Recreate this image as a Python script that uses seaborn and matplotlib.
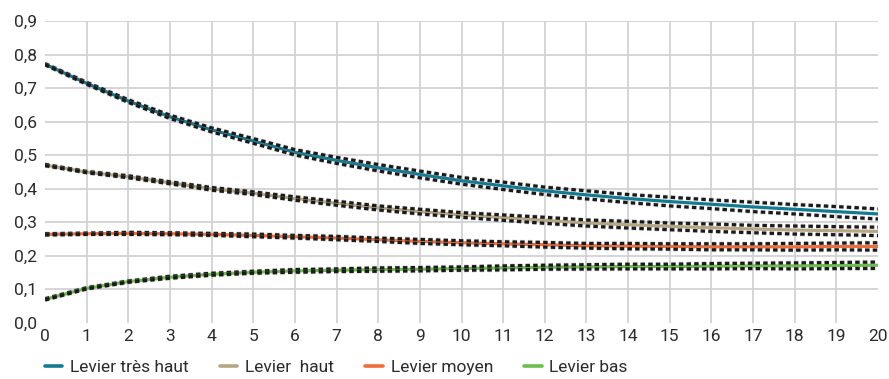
import numpy as np
import pandas as pd
import matplotlib
matplotlib.use("Agg")
import matplotlib.pyplot as plt
import matplotlib.patheffects as pe
from matplotlib.lines import Line2D
import seaborn as sns

# Horizon (years)
years = list(range(0, 21))

series_names = ["Levier très haut", "Levier  haut", "Levier moyen", "Levier bas"]
series_colors = ["#127b92", "#b7a684", "#f26c3a", "#6bbf4b"]

tres_haut = [0.771, 0.714, 0.661, 0.614, 0.575, 0.542, 0.508, 0.484, 0.462, 0.442,
             0.423, 0.408, 0.393, 0.381, 0.370, 0.361, 0.353, 0.345, 0.338, 0.331, 0.324]
haut = [0.470, 0.449, 0.435, 0.417, 0.399, 0.386, 0.370, 0.356, 0.342, 0.331,
        0.321, 0.313, 0.305, 0.297, 0.292, 0.287, 0.283, 0.279, 0.276, 0.274, 0.272]
moyen = [0.263, 0.265, 0.266, 0.265, 0.263, 0.260, 0.256, 0.252, 0.247, 0.242,
         0.238, 0.235, 0.232, 0.229, 0.228, 0.227, 0.226, 0.226, 0.226, 0.227, 0.227]
bas = [0.069, 0.102, 0.122, 0.135, 0.144, 0.150, 0.154, 0.156, 0.158, 0.159,
       0.161, 0.163, 0.165, 0.166, 0.167, 0.167, 0.168, 0.169, 0.169, 0.170, 0.171]

# Half-width of the confidence band around each series
ecart_tres_haut = [0.002, 0.003, 0.004, 0.005, 0.006, 0.007, 0.008, 0.009, 0.0095, 0.010,
                   0.010, 0.011, 0.011, 0.012, 0.012, 0.013, 0.013, 0.014, 0.014, 0.015, 0.015]
ecart_haut = [0.002, 0.002, 0.003, 0.003, 0.004, 0.004, 0.005, 0.006, 0.006, 0.007,
              0.007, 0.008, 0.009, 0.009, 0.010, 0.010, 0.011, 0.011, 0.012, 0.012, 0.0125]
ecart_moyen = [0.002, 0.002, 0.003, 0.003, 0.003, 0.004, 0.004, 0.005, 0.005, 0.006,
               0.006, 0.006, 0.007, 0.007, 0.008, 0.008, 0.009, 0.009, 0.010, 0.010, 0.011]
ecart_bas = [0.002, 0.002, 0.002, 0.003, 0.003, 0.003, 0.004, 0.004, 0.005, 0.005,
             0.005, 0.006, 0.006, 0.0065, 0.007, 0.007, 0.008, 0.008, 0.009, 0.009, 0.0095]

y_ticks = [0.0, 0.1, 0.2, 0.3, 0.4, 0.5, 0.6, 0.7, 0.8, 0.9]

sns.set_theme(style="white")
plt.rcParams["font.family"] = ["Roboto", "DejaVu Sans"]

values = [tres_haut, haut, moyen, bas]
spreads = [ecart_tres_haut, ecart_haut, ecart_moyen, ecart_bas]

frames = []
for name, vals, sp in zip(series_names, values, spreads):
    v = np.array(vals)
    s = np.array(sp)
    frames.append(pd.DataFrame({"annee": years, "valeur": v, "serie": name,
                                "haut": v + s, "bas": v - s}))
df = pd.concat(frames, ignore_index=True)

fig = plt.figure(figsize=(8.89, 3.79), dpi=100)
ax = fig.add_axes([45 / 889, 1 - 322.5 / 379, (878 - 45) / 889, (322.5 - 21) / 379])

grid_color = "#d2d2d4"
for v in y_ticks[1:]:
    ax.axhline(v, color=grid_color, lw=1.3, zorder=0)
for x in years[1:-1]:
    ax.axvline(x, color=grid_color, lw=1.3, zorder=0)

sns.lineplot(data=df, x="annee", y="valeur", hue="serie", hue_order=series_names,
             palette=series_colors, linewidth=2.3, legend=False, ax=ax, zorder=3)

dash_effect = [pe.Stroke(linewidth=3.4, foreground="#9a9a9a", alpha=0.3), pe.Normal()]
for name in series_names:
    sub = df[df["serie"] == name]
    for col in ["haut", "bas"]:
        sns.lineplot(data=sub, x="annee", y=col, color="#1a1a1a", linewidth=2.3,
                     ax=ax, zorder=4, legend=False)
        ln = ax.lines[-1]
        ln.set_linestyle((0, (1.4, 1.0)))
        ln.set_dash_capstyle("butt")
        ln.set_path_effects(dash_effect)

ax.set_xlim(0, 20)
ax.set_ylim(0, 0.9)
ax.set_xticks(years)
ax.set_xticklabels([str(y) for y in years])
ax.set_yticks(y_ticks)
ax.set_yticklabels([f"{t:.1f}".replace(".", ",") for t in y_ticks])
ax.set_xlabel("")
ax.set_ylabel("")
for s in ax.spines.values():
    s.set_visible(False)
ax.tick_params(axis="both", length=0, labelsize=12.5, colors="#2b2b2b")
ax.tick_params(axis="x", pad=5)
ax.tick_params(axis="y", pad=6)

handles = [Line2D([0], [0], color=c, lw=2.6) for c in series_colors]
fig.legend(handles, series_names, loc="center left",
           bbox_to_anchor=(45 / 889, 1 - 367 / 379), ncol=4, frameon=False,
           fontsize=12.5, handlelength=1.0, handletextpad=0.45, columnspacing=1.8,
           labelcolor="#2b2b2b", borderaxespad=0, borderpad=0)

fig.savefig("out.png", dpi=100)
